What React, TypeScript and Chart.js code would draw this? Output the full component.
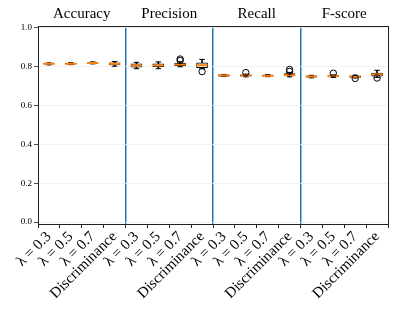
import { useEffect, useRef } from 'react';
import { Chart, registerables } from 'chart.js';

Chart.register(...registerables);

const metrics = ['Accuracy', 'Precision', 'Recall', 'F-score'];
const methods = ['λ = 0.3', 'λ = 0.5', 'λ = 0.7', 'Discriminance'];
const labels = metrics.flatMap(() => methods);

const whiskerLow = [
  0.810, 0.811, 0.815, 0.803,
  0.790, 0.790, 0.800, 0.790,
  0.750, 0.748, 0.749, 0.748,
  0.743, 0.745, 0.742, 0.745,
];
const q1 = [
  0.813, 0.814, 0.818, 0.810,
  0.798, 0.800, 0.806, 0.795,
  0.752, 0.752, 0.751, 0.753,
  0.746, 0.748, 0.745, 0.752,
];
const median = [
  0.815, 0.816, 0.820, 0.815,
  0.806, 0.807, 0.812, 0.808,
  0.755, 0.755, 0.754, 0.758,
  0.750, 0.752, 0.749, 0.760,
];
const q3 = [
  0.817, 0.818, 0.822, 0.820,
  0.815, 0.815, 0.818, 0.820,
  0.758, 0.758, 0.757, 0.765,
  0.753, 0.755, 0.753, 0.768,
];
const whiskerHigh = [
  0.820, 0.821, 0.825, 0.827,
  0.823, 0.825, 0.825, 0.838,
  0.760, 0.762, 0.760, 0.770,
  0.756, 0.758, 0.757, 0.782,
];
const outliersA: (number | null)[] = [
  null, null, null, null,
  null, null, 0.832, 0.775,
  null, 0.770, null, 0.776,
  null, null, 0.740, 0.742,
];
const outliersB: (number | null)[] = [
  null, null, null, null,
  null, null, 0.840, null,
  null, null, null, 0.786,
  null, 0.767, null, null,
];
const yTicks = [0.0, 0.2, 0.4, 0.6, 0.8, 1.0];

const FONT = "'Liberation Serif', 'DejaVu Serif', serif";
const AXIS = '#222222';

export default function App() {
  const ref = useRef<HTMLCanvasElement | null>(null);
  useEffect(() => {
    if (!ref.current) return;
    const chart = new Chart(ref.current, {
      type: 'bar',
      data: {
        labels,
        datasets: [
          {
            type: 'line',
            data: outliersA,
            showLine: false,
            pointStyle: 'circle',
            pointRadius: 3.2,
            pointBorderWidth: 1,
            pointBorderColor: '#000',
            pointBackgroundColor: 'rgba(0,0,0,0)',
          } as any,
          {
            type: 'line',
            data: outliersB,
            showLine: false,
            pointStyle: 'circle',
            pointRadius: 3.2,
            pointBorderWidth: 1,
            pointBorderColor: '#000',
            pointBackgroundColor: 'rgba(0,0,0,0)',
          } as any,
          {
            type: 'line',
            data: median,
            showLine: false,
            pointStyle: 'line',
            pointRadius: 5.5,
            pointBorderWidth: 2,
            pointBorderColor: '#ff7f0e',
          } as any,
          {
            type: 'line',
            data: whiskerLow,
            showLine: false,
            pointStyle: 'line',
            pointRadius: 2.75,
            pointBorderWidth: 1,
            pointBorderColor: '#000',
          } as any,
          {
            type: 'line',
            data: whiskerHigh,
            showLine: false,
            pointStyle: 'line',
            pointRadius: 2.75,
            pointBorderWidth: 1,
            pointBorderColor: '#000',
          } as any,
          {
            type: 'bar',
            data: q1.map((v, i) => [v, q3[i]]),
            barThickness: 11,
            grouped: false,
            backgroundColor: '#ffffff',
            borderColor: '#000',
            borderWidth: 1,
            borderSkipped: false,
          } as any,
          {
            type: 'bar',
            data: whiskerLow.map((v, i) => [v, whiskerHigh[i]]),
            barThickness: 1,
            grouped: false,
            backgroundColor: '#000',
            borderWidth: 0,
          } as any,
        ],
      },
      options: {
        responsive: false,
        animation: false,
        layout: { padding: 0 },
        plugins: { legend: { display: false }, tooltip: { enabled: false }, title: { display: false } },
        scales: {
          x: {
            type: 'category',
            position: 'bottom',
            offset: true,
            grid: { display: true, drawOnChartArea: false, drawTicks: true, tickLength: 4, tickColor: AXIS, color: AXIS },
            border: { display: true, color: AXIS, width: 1 },
            ticks: {
              autoSkip: false,
              maxRotation: 45,
              minRotation: 45,
              padding: 0,
              color: '#000',
              font: { family: FONT, size: 15 },
            },
            afterFit: (s: any) => { s.height = 86; },
          },
          x2: {
            type: 'category',
            position: 'top',
            labels: metrics,
            offset: true,
            grid: {
              offset: true,
              drawTicks: false,
              lineWidth: 1.5,
              color: (ctx: any) => ([1, 2, 3].includes(ctx.index) ? '#1f77b4' : 'rgba(0,0,0,0)'),
            },
            border: { display: true, color: AXIS, width: 1 },
            ticks: { color: '#000', padding: 3, font: { family: FONT, size: 15 } },
            afterFit: (s: any) => { s.height = 26; },
          },
          y: {
            type: 'linear',
            position: 'left',
            min: -0.01,
            max: 1.01,
            afterBuildTicks: (axis: any) => { axis.ticks = yTicks.map((v) => ({ value: v })); },
            grid: { color: '#ececec', lineWidth: 0.8, tickColor: AXIS, tickLength: 4 },
            border: { display: true, color: AXIS, width: 1 },
            ticks: {
              color: '#000',
              padding: 2,
              font: { family: FONT, size: 9 },
              callback: (v: any) => Number(v).toFixed(1),
            },
            afterFit: (s: any) => { s.width = 38; },
          },
          y2: {
            type: 'linear',
            position: 'right',
            min: -0.01,
            max: 1.01,
            grid: { drawOnChartArea: false, drawTicks: false },
            border: { display: true, color: AXIS, width: 1 },
            ticks: { display: false },
            afterFit: (s: any) => { s.width = 11; },
          },
        },
      } as any,
    });
    return () => chart.destroy();
  }, []);
  return (
    <div style={{ position: 'absolute', left: 0, top: 0, width: 399, height: 310, background: '#fff' }}>
      <canvas ref={ref} width={399} height={310} />
    </div>
  );
}
